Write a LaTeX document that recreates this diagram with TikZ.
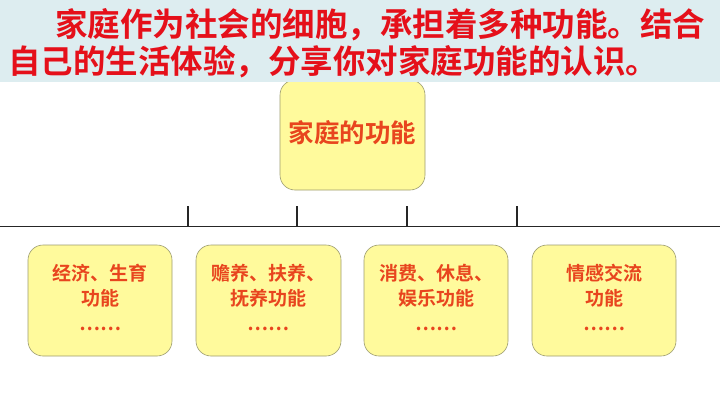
\documentclass[tikz,border=0pt]{standalone}
\usepackage{fontspec}
\newfontfamily\cjk[BoldFont={Noto Sans CJK SC Bold}]{Noto Sans CJK SC}
\definecolor{hdrbg}{HTML}{DDEDF0}
\definecolor{hdrred}{HTML}{E5101A}
\definecolor{boxred}{HTML}{E8451E}
\definecolor{boxfill}{HTML}{FFFA9C}
\definecolor{boxline}{HTML}{9C9C70}
\tikzset{
  fbox/.style={draw=boxline, line width=0.6pt, fill=boxfill, rounded corners=15pt, inner sep=0pt},
  ftext/.style={text=boxred, font=\cjk\bfseries\fontsize{19}{25}\selectfont, align=center, inner sep=0pt},
  htext/.style={text=hdrred, font=\cjk\bfseries\fontsize{32.5}{37}\selectfont, inner sep=0pt, anchor=west},
  axisline/.style={line width=1.2pt, black!85}
}
\begin{document}
\begin{tikzpicture}[x=1pt,y=-1pt]
\useasboundingbox (0,0) rectangle (720,405);
\fill[white] (0,0) rectangle (720,405);
% top box
\draw[fbox] (280,80) rectangle (425,190);
\node[text=boxred, font=\cjk\bfseries\fontsize{25.5}{30}\selectfont, inner sep=0pt] (top) at (352.5,133) {家庭的功能};
% header band
\fill[hdrbg] (0,0) rectangle (720,82);
\node[htext] (h1) at (55,25) {家庭作为社会的细胞，承担着多种功能。结合};
\node[htext] (h2) at (8,62) {自己的生活体验，分享你对家庭功能的认识。};
% axis line and ticks
\coordinate (L) at (0,226.5);
\coordinate (R) at (720,226.5);
\draw[axisline] (L) -- (R);
\foreach \x/\n in {188/t1,297/t2,407/t3,517/t4}{
  \coordinate (\n top) at (\x,206);
  \coordinate (\n bot) at (\x,226.5);
  \draw[axisline] (\n top) -- (\n bot);
}
% bottom boxes
\draw[fbox] (28,245) rectangle (172,356);
\draw[fbox] (196,245) rectangle (341,356);
\draw[fbox] (364,245) rectangle (508,356);
\draw[fbox] (532,245) rectangle (676,356);
\node[ftext] (b1) at (100,297) {经济、生育\\功能\\……};
\node[ftext] (b2) at (268.5,297) {赡养、扶养、\\抚养功能\\……};
\node[ftext] (b3) at (436,297) {消费、休息、\\娱乐功能\\……};
\node[ftext] (b4) at (604,297) {情感交流\\功能\\……};
\end{tikzpicture}
\end{document}
